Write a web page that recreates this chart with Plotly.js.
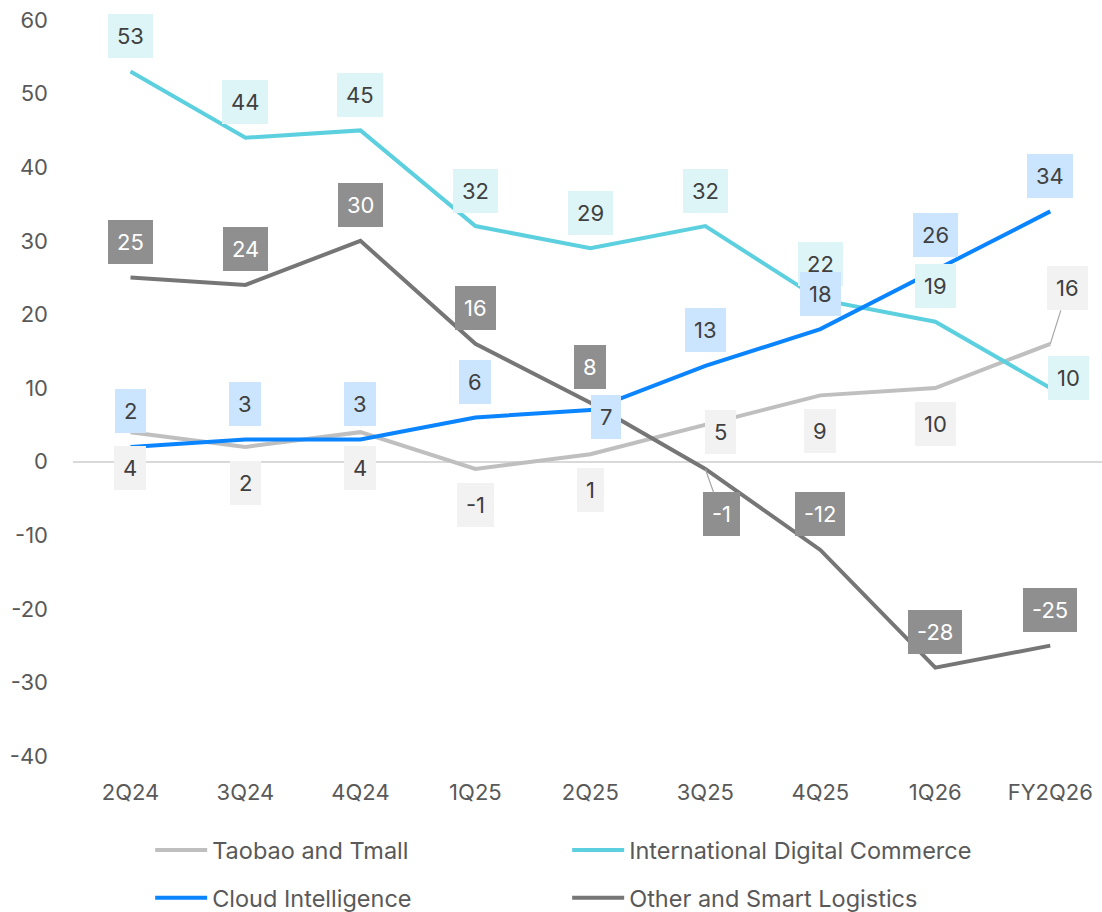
<!DOCTYPE html>
<html>
<head>
<meta charset="utf-8">
<script src="https://cdn.plot.ly/plotly-3.0.1.min.js"></script>
<style>
  html, body { margin: 0; padding: 0; background: #ffffff; overflow: hidden; }
  #chart { width: 1102px; height: 912px; }
</style>
</head>
<body>
<div id="chart"></div>
<script>
// ---- Data ----
const categories = ['2Q24', '3Q24', '4Q24', '1Q25', '2Q25', '3Q25', '4Q25', '1Q26', 'FY2Q26'];
const taobao = [4, 2, 4, -1, 1, 5, 9, 10, 16];
const intl = [53, 44, 45, 32, 29, 32, 22, 19, 10];
const cloud = [2, 3, 3, 6, 7, 13, 18, 26, 34];
const other = [25, 24, 30, 16, 8, -1, -12, -28, -25];
const yTicks = [-40, -30, -20, -10, 0, 10, 20, 30, 40, 50, 60];

// ---- Label placement (style only) ----
const taobaoPos = ['below', 'below', 'below', 'below', 'below', 'right', 'below', 'below', 'leaderUp'];
const intlPos = ['above', 'above', 'above', 'above', 'above', 'above', 'above', 'above', 'rightUp'];
const cloudPos = ['above', 'above', 'above', 'above', 'right', 'above', 'above', 'above', 'above'];
const otherPos = ['above', 'above', 'above', 'above', 'above', 'leaderDown', 'above', 'above', 'above'];

const FONT = 'Inter, "Noto Sans", sans-serif';

const series = [
  {name: 'Taobao and Tmall', values: taobao, pos: taobaoPos, color: '#bfbfbf', box: '#f2f2f2', text: '#404040', legend: 'legend'},
  {name: 'International Digital Commerce', values: intl, pos: intlPos, color: '#5dd0df', box: '#def5f8', text: '#404040', legend: 'legend'},
  {name: 'Cloud Intelligence', values: cloud, pos: cloudPos, color: '#0a84ff', box: '#cce5ff', text: '#404040', legend: 'legend2'},
  {name: 'Other and Smart Logistics', values: other, pos: otherPos, color: '#767676', box: '#8f8f8f', text: '#ffffff', legend: 'legend2'}
];

const traces = series.map(s => ({
  type: 'scatter',
  mode: 'lines',
  name: s.name,
  x: categories,
  y: s.values,
  line: {color: s.color, width: 4},
  legend: s.legend,
  hoverinfo: 'x+y+name'
}));

const offsets = {
  above: {xs: 0, ys: 35.5},
  below: {xs: 0, ys: -36},
  right: {xs: 15.5, ys: -7},
  rightUp: {xs: 18, ys: 10}
};

const annotations = [];
series.forEach(s => {
  s.values.forEach((v, i) => {
    const p = s.pos[i];
    const base = {
      xref: 'x', yref: 'y', x: categories[i], y: v,
      text: String(v),
      font: {family: FONT, size: 22, color: s.text},
      bgcolor: s.box,
      borderpad: 9,
      borderwidth: 0
    };
    if (p === 'leaderUp' || p === 'leaderDown') {
      Object.assign(base, {
        showarrow: true, arrowhead: 0, arrowwidth: 1.2, arrowcolor: '#a6a6a6',
        standoff: 0, axref: 'pixel', ayref: 'pixel',
        ax: p === 'leaderUp' ? 17.5 : 16,
        ay: p === 'leaderUp' ? -55.5 : 45.5
      });
    } else {
      const o = offsets[p];
      Object.assign(base, {showarrow: false, xshift: o.xs, yshift: o.ys});
    }
    annotations.push(base);
  });
});

const legendCommon = {
  orientation: 'h',
  xref: 'paper', yref: 'paper',
  xanchor: 'left', yanchor: 'middle',
  entrywidth: 350, entrywidthmode: 'pixels',
  itemwidth: 52,
  font: {family: FONT, size: 23.5, color: '#595959'},
  bgcolor: 'rgba(0,0,0,0)',
  itemclick: false, itemdoubleclick: false
};

const layout = {
  width: 1102,
  height: 912,
  margin: {l: 73, r: 0, t: 20, b: 156, pad: 0, autoexpand: false},
  paper_bgcolor: '#ffffff',
  plot_bgcolor: '#ffffff',
  font: {family: FONT, size: 22, color: '#595959'},
  showlegend: true,
  xaxis: {
    type: 'category',
    range: [-0.5, 8.45],
    showgrid: false,
    zeroline: false,
    showline: false,
    ticks: '',
    ticklabelstandoff: 21,
    tickfont: {family: FONT, size: 22, color: '#595959'},
    fixedrange: true
  },
  yaxis: {
    range: [-40, 60],
    tickvals: yTicks,
    ticktext: yTicks.map(String),
    showgrid: false,
    zeroline: true,
    zerolinecolor: '#d9d9d9',
    zerolinewidth: 2,
    showline: false,
    ticks: '',
    ticklabelstandoff: 24,
    tickfont: {family: FONT, size: 22, color: '#595959'},
    fixedrange: true
  },
  legend: Object.assign({}, legendCommon, {x: 0.075, y: -0.128}),
  legend2: Object.assign({}, legendCommon, {x: 0.075, y: -0.193}),
  annotations: annotations
};

Plotly.newPlot('chart', traces, layout, {displayModeBar: false, responsive: false});
</script>
</body>
</html>
